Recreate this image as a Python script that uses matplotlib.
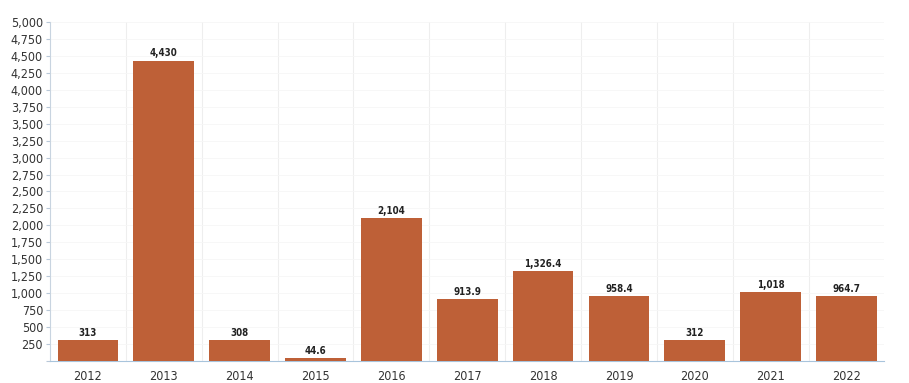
import matplotlib
matplotlib.use("Agg")
import matplotlib.pyplot as plt
from matplotlib.ticker import MultipleLocator, FuncFormatter

years = ["2012", "2013", "2014", "2015", "2016", "2017", "2018", "2019", "2020", "2021", "2022"]
values = [313, 4430, 308, 44.6, 2104, 913.9, 1326.4, 958.4, 312, 1018, 964.7]
labels = ["313", "4,430", "308", "44.6", "2,104", "913.9", "1,326.4", "958.4", "312", "1,018", "964.7"]

plt.rcParams['font.family'] = ['DejaVu Sans']
plt.rcParams['font.stretch'] = 'condensed'

fig = plt.figure(figsize=(9.09, 3.83), dpi=100)
ax = fig.add_axes([0.055, 0.057, 0.918, 0.886])

x = range(len(years))
bars = ax.bar(x, values, width=0.8, color="#BE6037", zorder=3)
for xi, v, lab in zip(x, values, labels):
    ax.text(xi, v + 30, lab, ha="center", va="bottom", fontsize=7, fontweight="bold", color="#222222", zorder=4)

ax.set_xlim(-0.5, len(years) - 0.5)
ax.set_ylim(0, 5000)
ax.yaxis.set_major_locator(MultipleLocator(250))
ax.yaxis.set_major_formatter(FuncFormatter(lambda v, p: "" if v == 0 else f"{int(v):,}"))
ax.set_xticks(list(x))
ax.set_xticklabels(years)
ax.set_xticks([i + 0.5 for i in range(len(years) - 1)], minor=True)
ax.grid(axis="x", which="minor", color="#eeeeee", linewidth=0.8, zorder=0)
ax.grid(axis="y", which="major", color="#f6f6f6", linewidth=0.6, zorder=0)
ax.tick_params(axis="x", which="both", length=0, labelsize=9, colors="#333333", pad=6)
ax.tick_params(axis="y", length=3, color="#b8c8d8", labelsize=9, colors="#333333", pad=2)
for s in ["top", "right"]:
    ax.spines[s].set_visible(False)
ax.spines["left"].set_color("#c8d4e0")
ax.spines["bottom"].set_color("#a8c4dc")

fig.savefig("out.png", dpi=100)
